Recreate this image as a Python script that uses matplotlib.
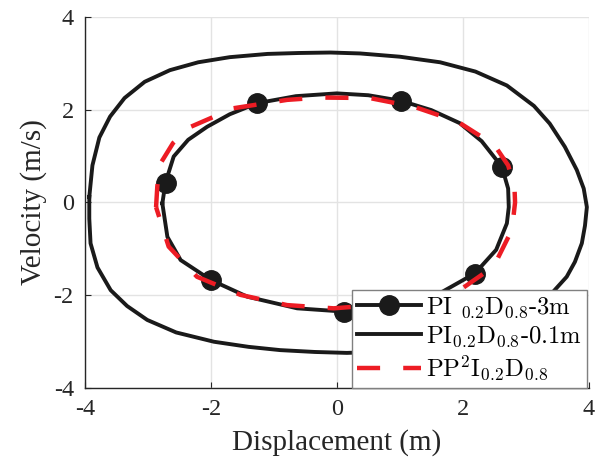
import matplotlib
matplotlib.use('Agg')
import matplotlib.pyplot as plt

plt.rcParams['font.family'] = 'Liberation Serif'
plt.rcParams['mathtext.fontset'] = 'cm'
plt.rcParams['axes.unicode_minus'] = False

# PI_0.2 D_0.8 - 3m (inner loop, with markers)
x_3m = [-2.77, -2.72, -2.59, -2.36, -2.06, -1.70, -1.26, -0.65, 0.00, 0.50,
        1.02, 1.50, 1.95, 2.30, 2.62, 2.72, 2.73, 2.70, 2.53, 2.19,
        1.68, 1.00, 0.50, 0.11, -0.63, -1.42, -2.00, -2.48, -2.69, -2.77]
y_3m = [-0.02, 0.43, 0.99, 1.35, 1.63, 1.90, 2.14, 2.29, 2.35, 2.31,
        2.19, 1.99, 1.71, 1.32, 0.77, 0.30, -0.10, -0.45, -1.02, -1.53,
        -1.92, -2.20, -2.31, -2.35, -2.28, -2.03, -1.67, -1.24, -0.74, -0.02]
marker_idx = [1, 6, 10, 14, 19, 23, 26]

# PI_0.2 D_0.8 - 0.1m (outer loop)
x_01m = [-3.93, -3.88, -3.77, -3.60, -3.37, -3.05, -2.65, -2.20, -1.70, -1.10,
         -0.60, -0.10, 0.37, 1.00, 1.64, 2.20, 2.70, 3.13, 3.38, 3.62,
         3.81, 3.92, 3.97, 3.94, 3.89, 3.78, 3.65, 3.41, 3.10, 2.80,
         2.00, 1.00, 0.16, -0.35, -0.90, -1.40, -1.95, -2.55, -3.01, -3.33,
         -3.59, -3.80, -3.91, -3.93, -3.93]
y_01m = [0.12, 0.80, 1.40, 1.85, 2.25, 2.60, 2.85, 3.02, 3.13, 3.20,
         3.22, 3.23, 3.21, 3.14, 3.02, 2.82, 2.52, 2.08, 1.70, 1.20,
         0.70, 0.30, -0.10, -0.50, -0.88, -1.28, -1.60, -1.96, -2.30, -2.60,
         -2.98, -3.20, -3.24, -3.22, -3.18, -3.11, -3.00, -2.80, -2.53, -2.23,
         -1.89, -1.40, -0.88, -0.35, 0.12]

# PP^2 I_0.2 D_0.8
x_pp = [-2.87, -2.85, -2.80, -2.60, -2.32, -1.64, -0.79, -0.26, 0.52, 1.23,
        1.92, 2.50, 2.72, 2.82, 2.83, 2.78, 2.49, 1.95, 1.00, -0.05,
        -0.79, -1.53, -2.22, -2.67, -2.87]
y_pp = [-0.10, 0.35, 0.84, 1.28, 1.63, 2.03, 2.21, 2.26, 2.25, 2.06,
        1.74, 1.24, 0.80, 0.35, 0.00, -0.59, -1.38, -1.89, -2.17, -2.28,
        -2.21, -1.99, -1.60, -0.95, -0.10]

ticks = [-4, -2, 0, 2, 4]

fig = plt.figure(figsize=(6.02, 4.66), dpi=100)
ax = fig.add_axes([0.141, 0.167, 0.837, 0.797])

ax.plot(x_3m, y_3m, color='#1a1a1a', lw=2.8, marker='o', markersize=14,
        markevery=marker_idx, markerfacecolor='#1a1a1a', markeredgecolor='#1a1a1a',
        label=r'PI $_{0.2}$D$_{0.8}$-3m', zorder=3)
ax.plot(x_01m, y_01m, color='#1a1a1a', lw=2.8,
        label=r'PI$_{0.2}$D$_{0.8}$-0.1m', zorder=3)
ax.plot(x_pp, y_pp, color='#ED1C24', lw=3.2, dashes=(5.2, 5.2),
        label=r'PP$^2$I$_{0.2}$D$_{0.8}$', zorder=4)

ax.set_xlim(-4, 4)
ax.set_ylim(-4, 4)
ax.set_xticks(ticks)
ax.set_yticks(ticks)
ax.set_xticklabels([str(t) for t in ticks])
ax.set_yticklabels([str(t) for t in ticks])
ax.tick_params(direction='in', length=4, labelsize=17.5, colors='#262626',
               top=False, right=False, pad=8)
ax.grid(True, color='#e3e3e3', lw=1.0)
ax.set_axisbelow(True)
for side in ['top', 'right']:
    ax.spines[side].set_visible(False)
for side in ['left', 'bottom']:
    ax.spines[side].set_color('#262626')
    ax.spines[side].set_linewidth(1.0)

ax.set_xlabel('Displacement (m)', fontsize=21, color='#262626', labelpad=6)
ax.set_ylabel('Velocity (m/s)', fontsize=21, color='#262626', labelpad=5)

leg = ax.legend(loc='lower right', bbox_to_anchor=(0.997, 0.0), borderaxespad=0,
                prop={'family': 'cmr10', 'size': 17.8}, handlelength=2.6,
                handletextpad=0.2, labelspacing=0.2, borderpad=0.2,
                fancybox=False, framealpha=1, edgecolor='#808080')
leg.get_frame().set_linewidth(1.0)
leg.set_zorder(10)

plt.savefig('out.png', dpi=100)
